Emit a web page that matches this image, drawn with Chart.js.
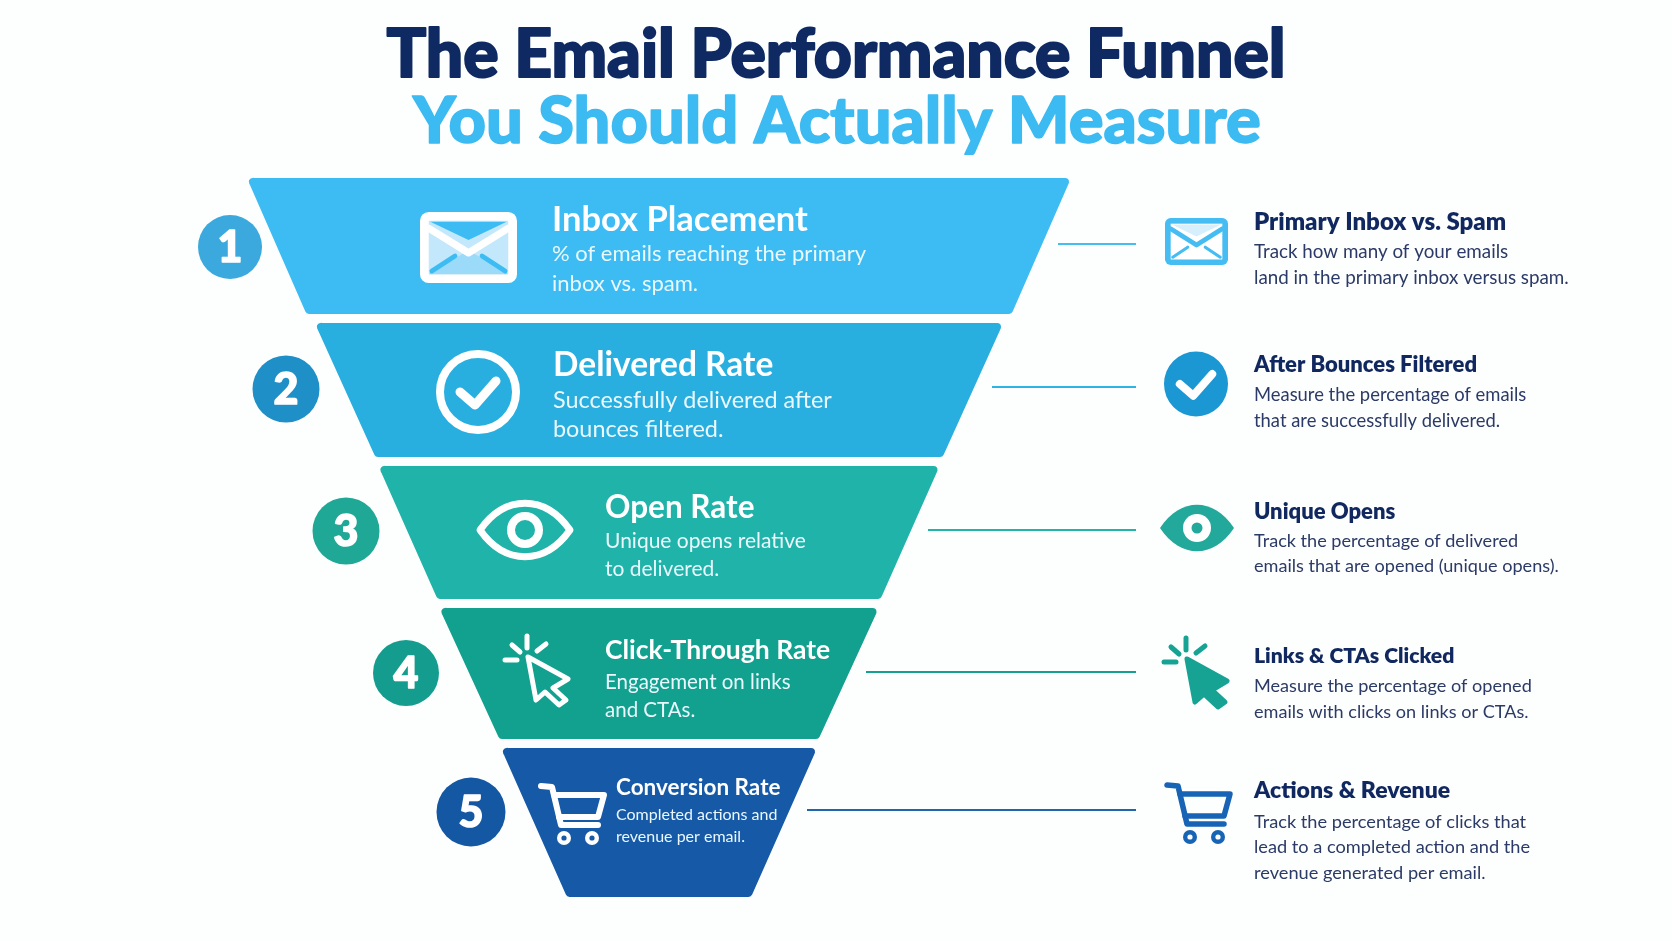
<!DOCTYPE html>
<html>
<head>
<meta charset="utf-8">
<title>The Email Performance Funnel</title>
<script src="https://cdn.jsdelivr.net/npm/chart.js@4"></script>
<style>
  html, body { margin: 0; padding: 0; background: #fdfefe; }
  canvas { display: block; }
</style>
</head>
<body>
<canvas id="funnelChart" width="1672" height="941"></canvas>
<script>
// Data
const titleLines = ["The Email Performance Funnel", "You Should Actually Measure"];
const stageNames = ["Inbox Placement", "Delivered Rate", "Open Rate", "Click-Through Rate", "Conversion Rate"];
const stageNotes = [
  ["% of emails reaching the primary", "inbox vs. spam."],
  ["Successfully delivered after", "bounces filtered."],
  ["Unique opens relative", "to delivered."],
  ["Engagement on links", "and CTAs."],
  ["Completed actions and", "revenue per email."]
];
const detailNames = ["Primary Inbox vs. Spam", "After Bounces Filtered", "Unique Opens", "Links & CTAs Clicked", "Actions & Revenue"];
const detailNotes = [
  ["Track how many of your emails", "land in the primary inbox versus spam."],
  ["Measure the percentage of emails", "that are successfully delivered."],
  ["Track the percentage of delivered", "emails that are opened (unique opens)."],
  ["Measure the percentage of opened", "emails with clicks on links or CTAs."],
  ["Track the percentage of clicks that", "lead to a completed action and the", "revenue generated per email."]
];
const stageNumbers = ["1", "2", "3", "4", "5"];

// funnel shape: width at top and bottom of each stage, and its depth
const topWidths = [820, 684, 557, 435, 312];
const bottomWidths = [708, 570, 446, 322, 187];
const stageDepths = [136, 134, 133, 131, 149];

// Layout and colours
const centerX = 659, funnelTop = 178, stageGap = 9, cornerPad = 4;
const connectorEnd = 1136;
const connectorFrom = [1058, 992, 928, 866, 807];
const connectorY = [244, 387, 530, 672, 810];
const stageColors = ["#3dbcf3", "#29aee0", "#20b3a9", "#12a08f", "#1659a7"];
const lineColors = ["#45bdf0", "#2fb3e4", "#23b3aa", "#15a093", "#1f66ab"];
const badgeColors = ["#3ba9dd", "#1f8fc7", "#1fa896", "#149d8e", "#1458a4"];
const badgeX = [230, 286, 346, 406, 471];
const badgeY = [247, 389, 531, 673, 812];
const badgeR = [32, 33.5, 33.5, 33, 34.5];
const navy = "#10275f", bodyNavy = "#2b3a66";

const stageText = [
  { x: 552, y: [231, 261, 291], head: 34.5, note: 22 },
  { x: 553, y: [376, 408, 437], head: 33.5, note: 23.4 },
  { x: 605, y: [518, 548, 576], head: 31.5, note: 21 },
  { x: 605, y: [659, 689, 717], head: 26.5, note: 20.5 },
  { x: 616, y: [795, 820, 842], head: 22.5, note: 16 }
];
const detailText = [
  { y: [230, 258, 284], head: 24, note: 18.8 },
  { y: [372, 401, 427], head: 22, note: 18.4 },
  { y: [519, 547, 572], head: 22, note: 18.1 },
  { y: [663, 692, 718], head: 21.2, note: 18.1 },
  { y: [798, 828, 853, 879], head: 23, note: 18.2 }
];

// build one closed outline per stage from the arrays above
const stageOutlines = [];
let depth = funnelTop;
stageDepths.forEach((d, i) => {
  const t = topWidths[i] / 2 - cornerPad, b = bottomWidths[i] / 2 - cornerPad;
  const y0 = depth + cornerPad, y1 = depth + d - cornerPad;
  stageOutlines.push([
    { x: centerX - t, y: y0 }, { x: centerX + t, y: y0 },
    { x: centerX + b, y: y1 }, { x: centerX - b, y: y1 },
    { x: centerX - t, y: y0 }
  ]);
  depth += d + stageGap;
});

const datasets = [];
stageOutlines.forEach((pts, i) => {
  datasets.push({
    label: stageNames[i], data: pts, showLine: true, fill: "shape", tension: 0,
    backgroundColor: stageColors[i], borderColor: stageColors[i],
    borderWidth: cornerPad * 2, borderJoinStyle: "round", borderCapStyle: "round", pointRadius: 0
  });
});
connectorFrom.forEach((from, i) => {
  datasets.push({
    label: "connector " + stageNumbers[i],
    data: [{ x: from, y: connectorY[i] }, { x: connectorEnd, y: connectorY[i] }],
    showLine: true, borderColor: lineColors[i], borderWidth: 2, pointRadius: 0
  });
});
datasets.push({
  label: "badges",
  data: badgeX.map((x, i) => ({ x: x, y: badgeY[i] })),
  showLine: false, pointRadius: badgeR, pointBackgroundColor: badgeColors,
  pointBorderWidth: 0, pointHoverRadius: badgeR
});

// Icons
function rounded(ctx, x, y, w, h, r) {
  ctx.beginPath();
  ctx.roundRect(x, y, w, h, r);
}

function poly(ctx, pts, close) {
  ctx.beginPath();
  pts.forEach((p, i) => i ? ctx.lineTo(p[0], p[1]) : ctx.moveTo(p[0], p[1]));
  if (close) ctx.closePath();
}

function envelope(ctx, x, y, w, h, frame, line, pane, inner, band) {
  const f = w * 0.09;
  ctx.fillStyle = frame;
  rounded(ctx, x, y, w, h, w * 0.09);
  ctx.fill();
  const ix = x + f, iy = y + f, iw = w - 2 * f, ih = h - 2 * f;
  ctx.fillStyle = pane;
  ctx.fillRect(ix, iy, iw, ih);
  ctx.fillStyle = inner;
  poly(ctx, [[ix, iy + ih], [ix + iw / 2, iy + ih * 0.55], [ix + iw, iy + ih]], true);
  ctx.fill();
  ctx.lineCap = "round";
  ctx.strokeStyle = line;
  ctx.lineWidth = w * 0.05;
  poly(ctx, [[ix + iw * 0.04, iy + ih * 0.94], [ix + iw * 0.33, iy + ih * 0.66]]);
  ctx.stroke();
  poly(ctx, [[ix + iw * 0.96, iy + ih * 0.94], [ix + iw * 0.67, iy + ih * 0.66]]);
  ctx.stroke();
  ctx.lineJoin = "round";
  ctx.strokeStyle = frame;
  ctx.lineWidth = w * 0.075;
  poly(ctx, [[ix, iy + ih * 0.14], [ix + iw / 2, iy + ih * 0.6], [ix + iw, iy + ih * 0.14]]);
  ctx.stroke();
  ctx.fillStyle = band;
  poly(ctx, [[ix + iw * 0.02, iy + ih * 0.02], [ix + iw * 0.98, iy + ih * 0.02], [ix + iw * 0.5, iy + ih * 0.36]], true);
  ctx.fill();
}

function check(ctx, cx, cy, s, width, color) {
  ctx.strokeStyle = color;
  ctx.lineWidth = width;
  ctx.lineCap = "round";
  ctx.lineJoin = "round";
  poly(ctx, [[cx - 18 * s, cy], [cx - 3 * s, cy + 13 * s], [cx + 18 * s, cy - 11 * s]]);
  ctx.stroke();
}

function almond(ctx, cx, cy, w, h) {
  ctx.beginPath();
  ctx.moveTo(cx - w / 2, cy);
  ctx.bezierCurveTo(cx - w * 0.22, cy - h * 0.66, cx + w * 0.22, cy - h * 0.66, cx + w / 2, cy);
  ctx.bezierCurveTo(cx + w * 0.22, cy + h * 0.66, cx - w * 0.22, cy + h * 0.66, cx - w / 2, cy);
  ctx.closePath();
}

function cursor(ctx, x, y, color, solid) {
  const pts = [[0, 0], [40, 22], [25, 31], [38, 43], [31, 48], [17, 35], [8, 43]];
  ctx.strokeStyle = color;
  ctx.fillStyle = color;
  ctx.lineCap = "round";
  ctx.lineJoin = "round";
  ctx.lineWidth = 5;
  poly(ctx, pts.map(p => [x + p[0], y + p[1]]), true);
  ctx.stroke();
  if (solid) ctx.fill();
  [[-1, -21, -1, -9], [-16, -12, -8, -5], [18, -13, 9, -6], [-23, 3, -11, 3]].forEach(s => {
    poly(ctx, [[x + s[0], y + s[1]], [x + s[2], y + s[3]]]);
    ctx.stroke();
  });
}

function cart(ctx, x, y, color, bg, lw) {
  ctx.strokeStyle = color;
  ctx.lineWidth = lw;
  ctx.lineCap = "round";
  ctx.lineJoin = "round";
  poly(ctx, [[x, y], [x + 11, y + 1], [x + 20, y + 39], [x + 57, y + 39]]);
  ctx.stroke();
  poly(ctx, [[x + 13, y + 9], [x + 63, y + 9], [x + 57, y + 31], [x + 18, y + 31]]);
  ctx.stroke();
  [[x + 23, y + 52], [x + 51, y + 52]].forEach(w => {
    ctx.fillStyle = color;
    ctx.beginPath();
    ctx.arc(w[0], w[1], 7, 0, Math.PI * 2);
    ctx.fill();
    ctx.fillStyle = bg;
    ctx.beginPath();
    ctx.arc(w[0], w[1], 2.6, 0, Math.PI * 2);
    ctx.fill();
  });
}

function text(ctx, str, x, y, font, color, align, heavy) {
  ctx.font = font;
  ctx.fillStyle = color;
  ctx.textAlign = align || "left";
  ctx.textBaseline = "alphabetic";
  if (heavy) {
    ctx.strokeStyle = color;
    ctx.lineWidth = heavy;
    ctx.lineJoin = "round";
    ctx.strokeText(str, x, y);
  }
  ctx.fillText(str, x, y);
}

const funnelLabels = {
  id: "funnelLabels",
  afterDatasetsDraw(chart) {
    const ctx = chart.ctx;
    ctx.save();

    // title
    text(ctx, titleLines[0], 836, 77, "900 66px Lato", "#0f2a63", "center", 2);
    text(ctx, titleLines[1], 837, 143, "900 65px Lato", "#3cbaf2", "center", 1.5);

    // badges numbers
    stageNumbers.forEach((n, i) => {
      text(ctx, n, badgeX[i], badgeY[i] + 15, "900 43px Lato", "#ffffff", "center", 1.5);
    });

    // text inside the funnel
    stageNames.forEach((name, i) => {
      const t = stageText[i];
      text(ctx, name, t.x, t.y[0], "700 " + t.head + "px Lato", "#ffffff");
      stageNotes[i].forEach((line, j) => {
        text(ctx, line, t.x, t.y[j + 1], "400 " + t.note + "px Lato", "#eaf8fd");
      });
    });

    // text on the right
    detailNames.forEach((name, i) => {
      const t = detailText[i];
      text(ctx, name, 1254, t.y[0], "800 " + t.head + "px Lato", navy);
      detailNotes[i].forEach((line, j) => {
        text(ctx, line, 1254, t.y[j + 1], "400 " + t.note + "px Lato", bodyNavy);
      });
    });

    // icons inside the funnel
    envelope(ctx, 420, 212, 97, 71, "#ffffff", stageColors[0], "#c4e8fb", "#9bdbf9", stageColors[0]);
    ctx.strokeStyle = "#ffffff";
    ctx.lineWidth = 8;
    ctx.beginPath();
    ctx.arc(478, 392, 38, 0, Math.PI * 2);
    ctx.stroke();
    check(ctx, 478, 392, 1, 9, "#ffffff");
    ctx.strokeStyle = "#ffffff";
    ctx.lineWidth = 7;
    ctx.lineJoin = "round";
    almond(ctx, 525, 530, 90, 54);
    ctx.stroke();
    ctx.beginPath();
    ctx.arc(525, 530, 14, 0, Math.PI * 2);
    ctx.lineWidth = 8;
    ctx.stroke();
    cursor(ctx, 528, 657, "#ffffff", false);
    cart(ctx, 541, 786, "#ffffff", stageColors[4], 6);

    // icons on the right
    envelope(ctx, 1165, 218, 63, 47, "#45bdf2", "#45bdf2", "#ffffff", "#ffffff", "#d5f0fc");
    ctx.fillStyle = "#1b97d4";
    ctx.beginPath();
    ctx.ellipse(1196, 384, 32, 32.5, 0, 0, Math.PI * 2);
    ctx.fill();
    check(ctx, 1196, 384, 0.9, 8, "#ffffff");
    ctx.fillStyle = "#22a99b";
    almond(ctx, 1197, 528, 74, 47);
    ctx.fill();
    ctx.fillStyle = "#ffffff";
    ctx.beginPath();
    ctx.arc(1197, 528, 14, 0, Math.PI * 2);
    ctx.fill();
    ctx.fillStyle = "#22a99b";
    ctx.beginPath();
    ctx.arc(1197, 528, 5.5, 0, Math.PI * 2);
    ctx.fill();
    cursor(ctx, 1187, 659, "#16a393", true);
    cart(ctx, 1167, 785, "#1763b5", "#ffffff", 5.5);

    ctx.restore();
  }
};

new Chart(document.getElementById("funnelChart"), {
  type: "scatter",
  data: { datasets: datasets },
  options: {
    responsive: false,
    animation: false,
    events: [],
    layout: { padding: 0, autoPadding: false },
    clip: false,
    plugins: { legend: { display: false }, tooltip: { enabled: false }, title: { display: false } },
    scales: {
      x: { type: "linear", min: 0, max: 1672, display: false },
      y: { type: "linear", min: 0, max: 941, reverse: true, display: false }
    }
  },
  plugins: [funnelLabels]
});
</script>
</body>
</html>
